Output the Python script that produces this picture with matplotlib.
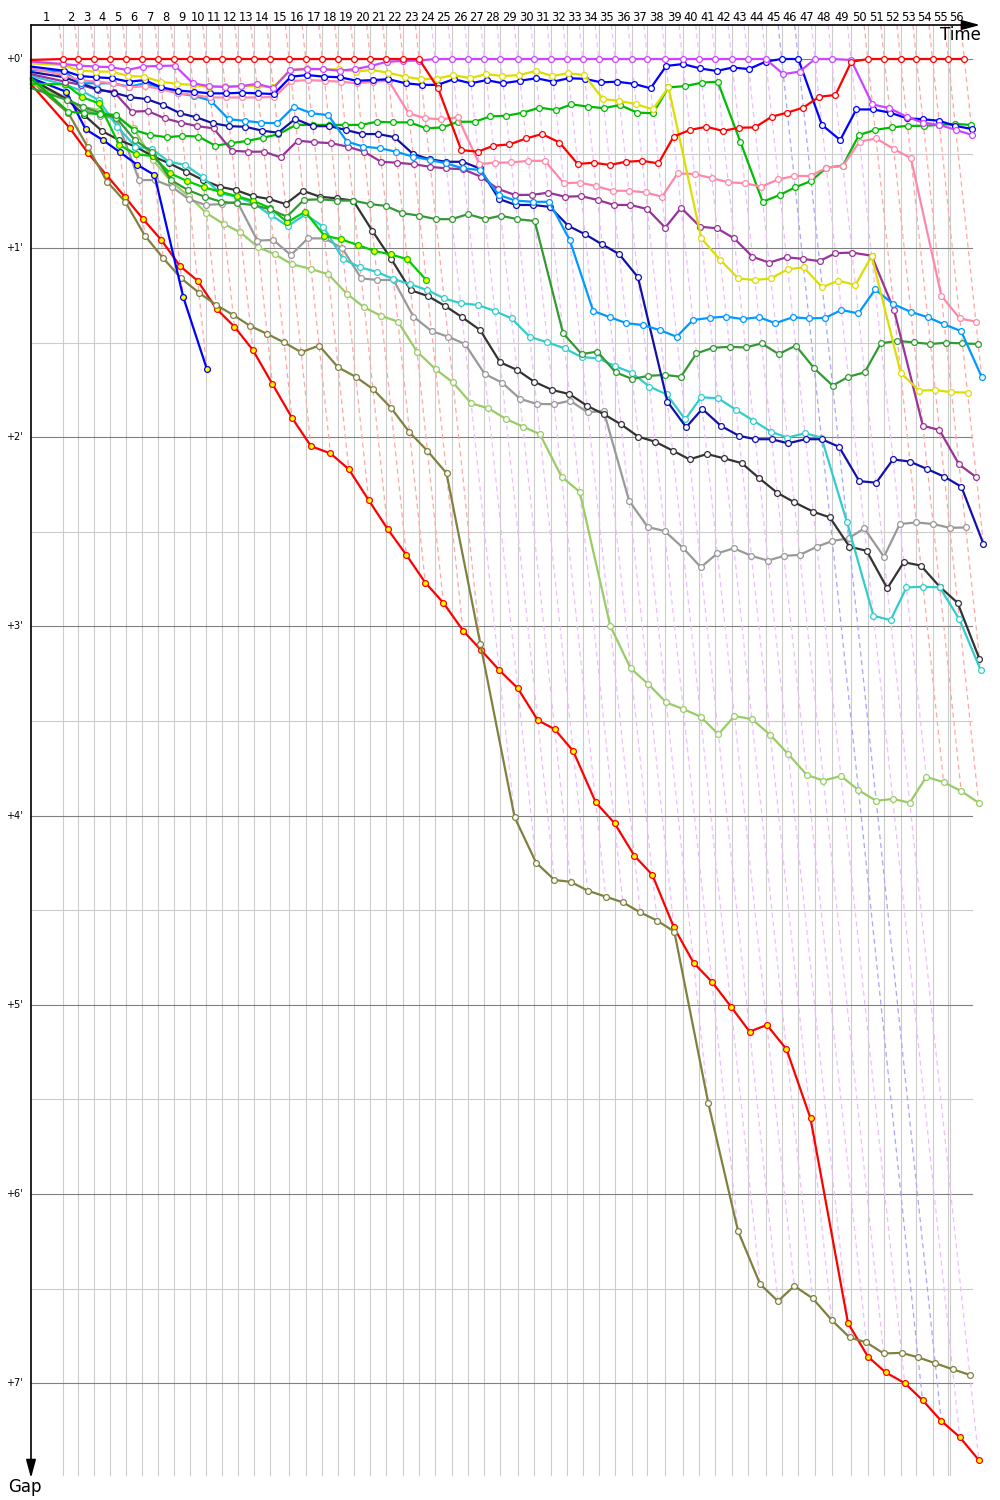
import numpy as np
import matplotlib
matplotlib.use("Agg")
import matplotlib.pyplot as plt
from matplotlib.colors import to_rgb

# leader lap times in seconds (lap 1 .. 56)
lap_times = [95.8, 47.1, 48.3, 48.4, 48.3, 48.4, 48.3, 48.3, 48.4, 48.3,
             48.3, 48.4, 48.3, 48.4, 56.5, 50.4, 50.2, 48.3, 48.3, 48.4,
             48.3, 50.5, 48.3, 48.3, 50.5, 50.1, 48.4, 48.9, 52.0, 50.1,
             49.6, 48.3, 48.4, 48.3, 49.3, 49.8, 48.3, 54.4, 51.4, 50.7,
             48.4, 49.5, 48.4, 54.3, 48.4, 50.1, 50.5, 50.4, 58.3, 50.5,
             50.2, 48.9, 48.3, 48.4, 47.7, 48.3]
flag_time = 2776.4

# gap to the leader at each completed lap (seconds)
red = [0, 0, 0, 0, 0, 0, 0, 0, 0, 0, 0, 0, 0, 0, 0, 0, 0, 0, 0, 0, 0, 0, 0,
       9.3, 28.9, 29.4, 27.5, 27.1, 25.2, 23.8, 26.5, 33.3, 32.9, 33.6, 32.6,
       32.3, 33.1, 24.6, 22.5, 21.5, 22.8, 21.8, 21.7, 18.3, 17.0, 15.4, 12.0,
       11.4, 0.9, 0, 0, 0, 0, 0, 0, 0]
violet = [1.6, 2.1, 2.4, 2.6, 3.5, 2.4, 2.2, 2.1, 7.7, 8.6, 8.9, 8.6, 7.9, 9.2,
          3.5, 3.2, 3.2, 3.7, 3.2, 2.2, 0.9, 0.6, 0.5,
          0, 0, 0, 0, 0, 0, 0, 0, 0, 0, 0, 0, 0, 0, 0, 0, 0, 0, 0, 0, 0,
          4.8, 4.0, 0, 0, 0.3, 14.4, 15.6, 18.3, 20.2, 20.9, 22.5, 24.1]
yellow = [1.9, 3.7, 4.0, 4.0, 5.4, 5.6, 7.2, 7.9, 8.2, 9.0, 8.6, 8.6, 8.6, 9.0,
          3.5, 3.0, 3.3, 3.3, 4.0, 3.5, 4.3, 5.6, 6.4, 6.2, 5.1, 6.1, 4.8, 5.4,
          5.1, 3.8, 5.4, 4.5, 5.1, 12.7, 13.3, 14.3, 16.0, 9.0, 56.9, 63.8,
          69.6, 70.1, 69.6, 66.7, 66.1, 72.4, 70.3, 71.7, 62.5, 99.5, 105.2,
          105.0, 105.7, 105.8]
blue = [3.7, 5.4, 5.8, 6.1, 7.2, 6.7, 9.0, 10.0, 10.4, 10.9, 10.9, 10.7, 10.9,
        11.1, 5.6, 5.1, 5.6, 5.8, 6.9, 6.7, 6.4, 7.7, 8.2, 8.2, 6.4, 7.7, 6.7,
        7.7, 6.9, 6.1, 7.2, 6.1, 6.3, 7.4, 7.2, 7.9, 9.3, 2.2, 1.6, 3.0, 3.8,
        2.7, 3.2, 0.8, 0, 0, 20.9, 25.7, 16.0, 16.0, 17.0, 18.8, 19.1, 19.6,
        21.2, 22.2]
pink = [5.1, 6.7, 7.2, 7.7, 9.0, 8.6, 9.6, 10.9, 11.4, 12.2, 12.2, 12.2, 12.2,
        12.0, 7.0, 6.7, 6.9, 7.2, 7.7, 7.2, 6.9, 17.2, 18.8, 19.1, 18.5, 33.3,
        32.9, 32.8, 32.3, 32.3, 39.4, 39.2, 40.3, 41.8, 41.8, 42.3, 43.7, 36.3,
        36.5, 37.8, 39.1, 39.4, 40.5, 38.2, 37.1, 37.1, 34.5, 33.9, 26.2, 25.2,
        28.5, 31.5, 75.1, 82.3, 83.3]
azure = [4.0, 7.7, 7.7, 7.7, 8.8, 7.7, 9.1, 10.9, 11.7, 13.2, 19.1, 19.6, 20.2,
         20.4, 15.1, 17.2, 17.8, 26.2, 27.8, 28.3, 29.4, 31.0, 32.0, 33.1, 34.7,
         35.2, 43.1, 44.9, 45.3, 45.3, 57.4, 79.9, 81.9, 83.8, 84.4, 86.0, 88.1,
         82.8, 82.1, 81.7, 82.5, 81.9, 83.8, 81.9, 82.3, 82.1, 79.6, 80.7, 73.1,
         77.8, 80.2, 81.9, 84.2, 86.3, 100.8]
navy = [5.8, 7.7, 9.6, 10.7, 12.1, 12.7, 14.6, 17.2, 18.5, 20.4, 21.3, 21.5,
        22.7, 23.4, 19.0, 21.3, 21.3, 22.5, 23.8, 23.8, 24.8, 30.1, 31.8, 32.6,
        32.6, 34.7, 44.4, 46.3, 46.3, 46.9, 52.9, 55.6, 58.8, 61.9, 69.2, 108.7,
        116.8, 111.0, 116.4, 119.5, 120.6, 120.6, 121.9, 120.6, 120.6, 123.0,
        133.9, 134.4, 127.0, 127.7, 130.1, 132.5, 135.7, 153.8]
purple = [7.2, 8.2, 9.8, 10.4, 16.7, 16.5, 18.8, 20.2, 21.3, 22.0, 29.1, 29.4,
          29.4, 31.2, 25.9, 26.4, 26.7, 27.8, 29.4, 32.6, 32.9, 33.4, 34.2,
          34.7, 35.0, 37.3, 41.2, 43.1, 43.1, 42.4, 43.7, 43.5, 44.7, 46.3,
          46.3, 47.6, 53.5, 47.2, 53.2, 53.7, 56.9, 62.7, 64.6, 62.9, 63.4,
          64.1, 61.6, 61.4, 62.4, 79.6, 116.3, 117.7, 128.6, 132.7]
green = [16.7, 17.2, 17.4, 17.8, 22.5, 24.1, 24.8, 24.4, 24.6, 27.5, 26.7, 26.0,
         25.0, 23.9, 20.9, 20.9, 20.9, 20.9, 20.9, 19.9, 20.1, 20.1, 22.0, 21.7,
         19.9, 19.9, 18.2, 18.0, 17.0, 15.4, 16.2, 14.4, 15.1, 15.6, 14.6, 17.0,
         17.2, 9.0, 8.6, 7.5, 7.2, 26.3, 45.3, 43.1, 40.7, 38.7, 34.5, 33.8,
         24.1, 22.5, 21.7, 21.2, 21.2, 20.9, 20.6, 20.9]
forest = [13.0, 15.2, 17.1, 18.7, 25.7, 29.5, 38.4, 41.6, 43.7, 45.3, 45.8,
          46.3, 47.7, 50.0, 44.7, 44.5, 44.9, 44.9, 46.0, 46.6, 48.9, 49.7,
          50.8, 50.8, 49.2, 50.8, 49.7, 50.8, 51.4, 87.0, 93.6, 92.8, 99.4,
          101.5, 100.5, 100.2, 100.8, 93.4, 91.6, 91.3, 91.5, 90.2, 93.6, 90.9,
          98.1, 103.6, 100.8, 99.4, 90.2, 89.4, 89.9, 90.4, 90.0, 90.2, 90.4]
green_y = [8.0, 12.1, 14.1, 27.3, 30.2, 30.8, 36.3, 38.7, 40.7, 42.1, 43.5,
           45.0, 47.2, 51.8, 48.4, 56.0, 57.2, 59.0, 60.9, 62.0, 63.5, 70.1]
blue_y = [10.4, 22.3, 25.7, 29.6, 33.6, 36.8, 75.6, 98.3]
red_y = [22.0, 29.9, 36.8, 43.7, 50.8, 57.4, 65.7, 70.3, 79.3, 84.9, 92.3,
         103.1, 113.8, 122.8, 125.1, 130.1, 139.9, 149.1, 157.3, 166.1, 172.5,
         181.3, 187.5, 193.8, 199.6, 209.7, 212.6, 219.5, 235.8, 242.4, 252.7,
         258.8, 275.4, 286.7, 292.7, 300.6, 308.5, 306.4, 314.1, 336.0, 401.0,
         411.6, 416.6, 420.0, 425.4, 432.0, 437.1, 444.4]
olive = [17.2, 27.8, 38.9, 45.3, 56.0, 63.2, 69.6, 74.1, 78.0, 81.2, 84.7, 87.2,
         89.9, 93.0, 90.9, 97.8, 100.8, 104.7, 110.6, 118.4, 124.3, 131.4,
         185.7, 240.5, 254.9, 260.4, 261.0, 263.8, 265.7, 267.5, 270.7, 273.3,
         276.8, 331.3, 371.8, 388.6, 394.0, 389.2, 393.1, 400.0, 405.5, 407.1,
         410.6, 410.4, 411.8, 413.7, 415.6, 417.4]
lime = [13.0, 15.2, 16.2, 18.3, 22.0, 32.0, 38.9, 43.5, 48.9, 52.3, 55.0, 59.7,
        61.9, 65.1, 66.6, 68.3, 74.5, 78.8, 81.5, 83.3, 92.8, 98.4, 102.6,
        109.2, 110.8, 114.2, 116.6, 119.0, 132.5, 137.3, 179.8, 193.3, 198.3,
        204.1, 206.2, 208.6, 214.2, 208.4, 209.4, 214.4, 220.5, 227.1, 228.9,
        227.4, 231.9, 235.3, 234.7, 235.9, 227.7, 229.4, 232.2, 235.9]
grey = [12.4, 16.0, 18.0, 19.0, 38.4, 38.4, 40.5, 44.5, 46.3, 46.0, 45.3, 57.6,
        57.4, 62.2, 56.9, 56.9, 60.0, 69.6, 70.1, 70.1, 81.7, 86.3, 88.1, 90.4,
        99.9, 102.7, 107.8, 109.4, 109.5, 108.4, 112.1, 111.6, 140.1, 148.5,
        149.7, 155.0, 161.2, 156.8, 155.2, 157.6, 159.1, 157.6, 157.3, 154.7,
        152.9, 152.0, 148.9, 157.9, 147.5, 147.0, 147.5, 148.7, 148.6]
black = [12.8, 17.8, 22.8, 25.7, 27.8, 30.8, 33.1, 35.7, 38.4, 40.5, 41.6, 43.5,
         44.4, 46.0, 41.8, 43.7, 44.2, 44.9, 54.5, 63.5, 73.3, 75.2, 78.3, 81.9,
         86.0, 96.2, 98.6, 102.4, 105.0, 106.3, 110.0, 112.7, 115.9, 119.8,
         121.4, 124.2, 127.0, 125.3, 126.7, 128.2, 133.0, 137.6, 140.6, 143.6,
         145.4, 154.7, 156.0, 167.9, 159.6, 160.7, 167.4, 172.5, 190.3]
cyan = [8.2, 10.1, 13.0, 21.5, 27.8, 28.5, 32.6, 33.6, 37.5, 42.6, 43.7, 45.8,
        49.5, 53.0, 49.3, 53.2, 63.5, 66.1, 67.5, 69.8, 71.4, 73.3, 75.9, 77.5,
        78.0, 79.9, 82.3, 88.1, 89.9, 91.8, 94.6, 94.9, 97.4, 99.5, 103.9,
        106.4, 114.3, 107.3, 107.6, 111.3, 114.7, 118.2, 120.1, 118.7, 120.1,
        146.8, 176.6, 178.0, 167.6, 167.4, 167.6, 177.7, 193.8]

# gap shown at the start line
start_gaps = {"red": 0.3, "violet": 0.8, "yellow": 1.4, "blue": 2.4,
              "pink": 3.0, "azure": 3.5, "navy": 4.1, "purple": 4.8,
              "green": 6.0, "forest": 9.2, "green_y": 7.9, "blue_y": 6.0,
              "red_y": 8.0, "olive": 7.0, "lime": 7.6, "grey": 6.7,
              "black": 6.3, "cyan": 5.4}

gaps = {"red": red, "violet": violet, "yellow": yellow, "blue": blue,
        "pink": pink, "azure": azure, "navy": navy, "purple": purple,
        "green": green, "forest": forest, "green_y": green_y,
        "blue_y": blue_y, "red_y": red_y, "olive": olive, "lime": lime,
        "grey": grey, "black": black, "cyan": cyan}

# line colour, marker face
styles = {"red": ("#ff0000", "white"), "violet": ("#cc44ff", "white"),
          "yellow": ("#dddd00", "white"), "blue": ("#0000ff", "white"),
          "pink": ("#ff88aa", "white"), "azure": ("#0099ff", "white"),
          "navy": ("#1111aa", "white"), "purple": ("#993399", "white"),
          "green": ("#00bb00", "white"), "forest": ("#339933", "white"),
          "green_y": ("#00cc00", "#ffff00"), "blue_y": ("#0000ff", "#ffff00"),
          "red_y": ("#ff0000", "#ffff00"), "olive": ("#808040", "white"),
          "lime": ("#99cc66", "white"), "grey": ("#999999", "white"),
          "black": ("#333333", "white"), "cyan": ("#33cccc", "white")}

draw_order = ["red_y", "olive", "lime", "grey", "black", "cyan", "blue_y",
              "green_y", "forest", "green", "purple", "navy", "azure", "pink",
              "blue", "yellow", "violet", "red"]

# pixel scale of the reference: x px per second, y px per second
SX = 0.331
SY = 189.16 / 60.0
X0, Y0 = 31, 59


def gy(py):
    return (py - Y0) / SY


def tx(px):
    return (px - X0) / SX


lap_end = np.cumsum(lap_times)
n_laps = len(lap_times)
top = gy(25)
bottom = gy(1475)

fig = plt.figure(figsize=(10, 15), dpi=100)
ax = fig.add_axes([0, 0, 1, 1])
ax.set_xlim(tx(0), tx(1000))
ax.set_ylim(gy(1500), gy(0))
ax.axis("off")

# vertical lap lines
grey_lines = list(lap_end[:-1]) + [flag_time]
for t in grey_lines:
    ax.plot([t, t], [top, bottom], color="#cccccc", lw=0.8, zorder=1)

# horizontal grid
for m in range(8):
    ax.plot([0, tx(972)], [60 * m, 60 * m], color="#808080", lw=0.8, zorder=1.2)
    ax.text(tx(23), 60 * m, "+%d'" % m, ha="right", va="center",
            fontsize=7, color="black")
for m in range(7):
    ax.plot([0, tx(972)], [60 * m + 30, 60 * m + 30], color="#cccccc",
            lw=0.8, zorder=1.1)

# dashed "lap" lines, coloured by the leader of that lap
for k in range(n_laps):
    on_lap = [(gaps[d][k], d) for d in gaps if len(gaps[d]) > k]
    g_low = max(g for g, _ in on_lap)
    leader = min(on_lap)[1]
    c = np.array(to_rgb(styles[leader][0]))
    light = 1 - 0.35 * (1 - c)
    t = lap_end[k]
    ax.plot([t + top, t + g_low], [top, g_low], color=light, lw=0.9,
            ls=(0, (4, 3)), zorder=1.5)

# drivers
for d in draw_order:
    g = gaps[d]
    col, face = styles[d]
    xs = [0] + [lap_end[i] + g[i] for i in range(len(g))]
    ys = [start_gaps[d]] + list(g)
    ax.plot(xs, ys, color=col, lw=1.6, marker="o", ms=4.2, mfc=face,
            mec=col, mew=0.9, markevery=list(range(1, len(xs))), zorder=3)

# axes with arrows
ax.annotate("", xy=(tx(980), top), xytext=(0, top),
            arrowprops=dict(arrowstyle="-|>,head_length=1.1,head_width=0.3",
                            color="black", lw=1.2, shrinkA=0, shrinkB=0),
            zorder=5)
ax.annotate("", xy=(0, gy(1478)), xytext=(0, top),
            arrowprops=dict(arrowstyle="-|>,head_length=1.1,head_width=0.3",
                            color="black", lw=1.2, shrinkA=0, shrinkB=0),
            zorder=5)

# lap numbers centred in each lap interval
edges = [0] + list(lap_end)
for k in range(n_laps):
    ax.text((edges[k] + edges[k + 1]) / 2, gy(17), str(k + 1), ha="center",
            va="center", fontsize=8.3)

ax.text(tx(960), gy(35), "Time", ha="center", va="center", fontsize=12,
        family=["Liberation Sans Narrow", "DejaVu Sans"])
ax.text(tx(25), gy(1487), "Gap", ha="center", va="center", fontsize=12,
        family=["Liberation Sans Narrow", "DejaVu Sans"])

fig.savefig("out.png", dpi=100)
